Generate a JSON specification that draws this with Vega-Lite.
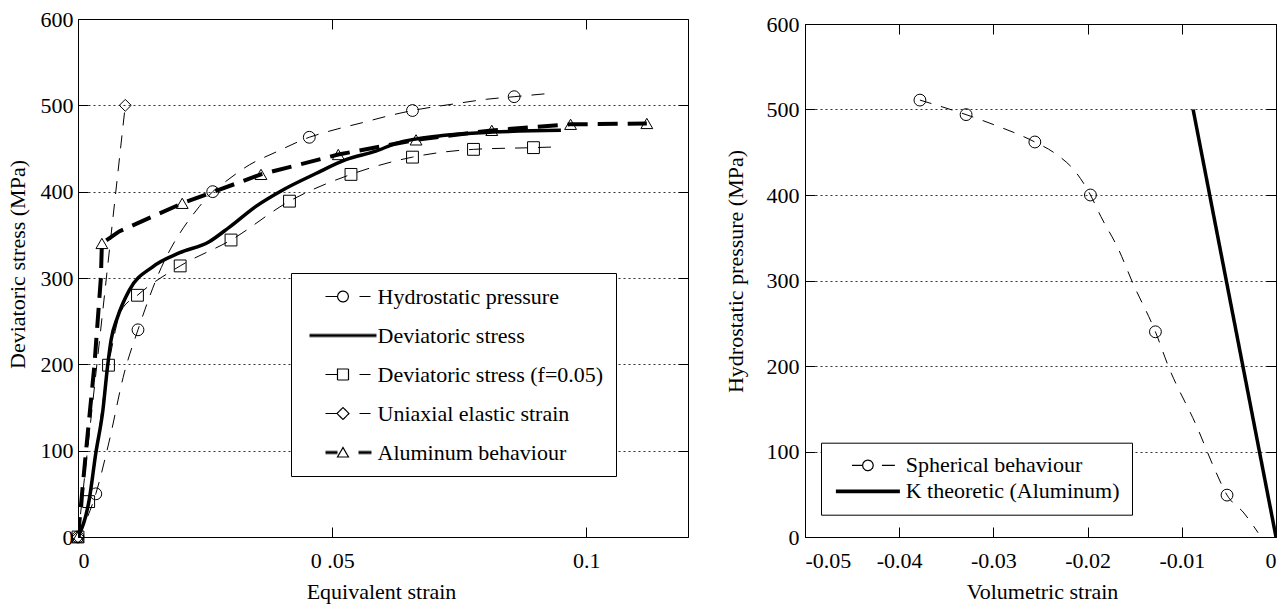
{
  "$schema": "https://vega.github.io/schema/vega-lite/v6.json",
  "background": "white",
  "padding": {"left": 5, "top": 7, "right": 5, "bottom": 5},
  "bounds": "flush",
  "spacing": 117,
  "resolve": {"scale": {"color": "independent", "shape": "independent"}},
  "config": {
    "font": "Liberation Serif",
    "view": {"stroke": "black", "strokeWidth": 1},
    "axis": {
      "labelFont": "Liberation Serif", "labelFontSize": 22, "labelColor": "black",
      "titleFont": "Liberation Serif", "titleFontSize": 22, "titleFontWeight": "normal", "titleColor": "black",
      "domain": false, "tickColor": "black", "tickSize": -10, "tickWidth": 1,
      "gridColor": "black", "gridDash": [2, 3], "gridWidth": 0.8, "gridOpacity": 1
    },
    "legend": {
      "labelFont": "Liberation Serif", "labelFontSize": 22, "labelColor": "black", "labelLimit": 400,
      "strokeColor": "black", "fillColor": "white", "direction": "vertical",
      "symbolStrokeWidth": 1.2, "symbolDash": [1, 0]
    }
  },
  "datasets": {
    "left": [
      {"series": "Hydrostatic pressure", "strain": 0, "stress": 0, "kind": "measured"},
      {"series": "Hydrostatic pressure", "strain": 0.0035, "stress": 50, "kind": "measured"},
      {"series": "Hydrostatic pressure", "strain": 0.0061, "stress": 110, "kind": "curve"},
      {"series": "Hydrostatic pressure", "strain": 0.0091, "stress": 190, "kind": "curve"},
      {"series": "Hydrostatic pressure", "strain": 0.0118, "stress": 240, "kind": "measured"},
      {"series": "Hydrostatic pressure", "strain": 0.0155, "stress": 300, "kind": "curve"},
      {"series": "Hydrostatic pressure", "strain": 0.0239, "stress": 383, "kind": "curve"},
      {"series": "Hydrostatic pressure", "strain": 0.0265, "stress": 400, "kind": "measured"},
      {"series": "Hydrostatic pressure", "strain": 0.0291, "stress": 412, "kind": "curve"},
      {"series": "Hydrostatic pressure", "strain": 0.0337, "stress": 431, "kind": "curve"},
      {"series": "Hydrostatic pressure", "strain": 0.039, "stress": 446, "kind": "curve"},
      {"series": "Hydrostatic pressure", "strain": 0.0455, "stress": 463, "kind": "measured"},
      {"series": "Hydrostatic pressure", "strain": 0.0494, "stress": 470, "kind": "curve"},
      {"series": "Hydrostatic pressure", "strain": 0.056, "stress": 480, "kind": "curve"},
      {"series": "Hydrostatic pressure", "strain": 0.0619, "stress": 489, "kind": "curve"},
      {"series": "Hydrostatic pressure", "strain": 0.0658, "stress": 494, "kind": "measured"},
      {"series": "Hydrostatic pressure", "strain": 0.0744, "stress": 502, "kind": "curve"},
      {"series": "Hydrostatic pressure", "strain": 0.0803, "stress": 507, "kind": "curve"},
      {"series": "Hydrostatic pressure", "strain": 0.0858, "stress": 510, "kind": "measured"},
      {"series": "Hydrostatic pressure", "strain": 0.0931, "stress": 514, "kind": "curve"},

      {"series": "Deviatoric stress", "strain": 0, "stress": 0, "kind": "curve"},
      {"series": "Deviatoric stress", "strain": 0.0022, "stress": 43, "kind": "curve"},
      {"series": "Deviatoric stress", "strain": 0.0035, "stress": 97, "kind": "curve"},
      {"series": "Deviatoric stress", "strain": 0.0049, "stress": 147, "kind": "curve"},
      {"series": "Deviatoric stress", "strain": 0.0058, "stress": 197, "kind": "curve"},
      {"series": "Deviatoric stress", "strain": 0.0065, "stress": 228, "kind": "curve"},
      {"series": "Deviatoric stress", "strain": 0.0078, "stress": 255, "kind": "curve"},
      {"series": "Deviatoric stress", "strain": 0.0101, "stress": 286, "kind": "curve"},
      {"series": "Deviatoric stress", "strain": 0.0147, "stress": 313, "kind": "curve"},
      {"series": "Deviatoric stress", "strain": 0.0199, "stress": 329, "kind": "curve"},
      {"series": "Deviatoric stress", "strain": 0.0258, "stress": 342, "kind": "curve"},
      {"series": "Deviatoric stress", "strain": 0.0298, "stress": 359, "kind": "curve"},
      {"series": "Deviatoric stress", "strain": 0.035, "stress": 383, "kind": "curve"},
      {"series": "Deviatoric stress", "strain": 0.0403, "stress": 402, "kind": "curve"},
      {"series": "Deviatoric stress", "strain": 0.0468, "stress": 421, "kind": "curve"},
      {"series": "Deviatoric stress", "strain": 0.0527, "stress": 437, "kind": "curve"},
      {"series": "Deviatoric stress", "strain": 0.0586, "stress": 447, "kind": "curve"},
      {"series": "Deviatoric stress", "strain": 0.0626, "stress": 456, "kind": "curve"},
      {"series": "Deviatoric stress", "strain": 0.0717, "stress": 465, "kind": "curve"},
      {"series": "Deviatoric stress", "strain": 0.0816, "stress": 469, "kind": "curve"},
      {"series": "Deviatoric stress", "strain": 0.095, "stress": 471, "kind": "curve"},

      {"series": "Deviatoric stress (f=0.05)", "strain": 0, "stress": 0, "kind": "measured"},
      {"series": "Deviatoric stress (f=0.05)", "strain": 0.0021, "stress": 41, "kind": "measured"},
      {"series": "Deviatoric stress (f=0.05)", "strain": 0.006, "stress": 199, "kind": "measured"},
      {"series": "Deviatoric stress (f=0.05)", "strain": 0.0085, "stress": 262, "kind": "curve"},
      {"series": "Deviatoric stress (f=0.05)", "strain": 0.0117, "stress": 280, "kind": "measured"},
      {"series": "Deviatoric stress (f=0.05)", "strain": 0.0201, "stress": 314, "kind": "measured"},
      {"series": "Deviatoric stress (f=0.05)", "strain": 0.0301, "stress": 344, "kind": "measured"},
      {"series": "Deviatoric stress (f=0.05)", "strain": 0.0416, "stress": 389, "kind": "measured"},
      {"series": "Deviatoric stress (f=0.05)", "strain": 0.0537, "stress": 420, "kind": "measured"},
      {"series": "Deviatoric stress (f=0.05)", "strain": 0.0658, "stress": 440, "kind": "measured"},
      {"series": "Deviatoric stress (f=0.05)", "strain": 0.0778, "stress": 449, "kind": "measured"},
      {"series": "Deviatoric stress (f=0.05)", "strain": 0.0896, "stress": 451, "kind": "measured"},
      {"series": "Deviatoric stress (f=0.05)", "strain": 0.095, "stress": 452, "kind": "curve"},

      {"series": "Uniaxial elastic strain", "strain": 0, "stress": 0, "kind": "measured"},
      {"series": "Uniaxial elastic strain", "strain": 0.0093, "stress": 500, "kind": "measured"},

      {"series": "Aluminum behaviour", "strain": 0, "stress": 0, "kind": "measured"},
      {"series": "Aluminum behaviour", "strain": 0.0016, "stress": 101, "kind": "curve"},
      {"series": "Aluminum behaviour", "strain": 0.0032, "stress": 197, "kind": "curve"},
      {"series": "Aluminum behaviour", "strain": 0.0045, "stress": 300, "kind": "curve"},
      {"series": "Aluminum behaviour", "strain": 0.0047, "stress": 340, "kind": "measured"},
      {"series": "Aluminum behaviour", "strain": 0.0081, "stress": 354, "kind": "curve"},
      {"series": "Aluminum behaviour", "strain": 0.0205, "stress": 386.5, "kind": "measured"},
      {"series": "Aluminum behaviour", "strain": 0.036, "stress": 420, "kind": "measured"},
      {"series": "Aluminum behaviour", "strain": 0.0512, "stress": 443, "kind": "measured"},
      {"series": "Aluminum behaviour", "strain": 0.0665, "stress": 460, "kind": "measured"},
      {"series": "Aluminum behaviour", "strain": 0.0814, "stress": 471, "kind": "measured"},
      {"series": "Aluminum behaviour", "strain": 0.0969, "stress": 478, "kind": "measured"},
      {"series": "Aluminum behaviour", "strain": 0.1119, "stress": 479, "kind": "measured"}
    ],
    "right": [
      {"series": "Spherical behaviour", "strain": -0.0378, "pressure": 511, "kind": "measured"},
      {"series": "Spherical behaviour", "strain": -0.0329, "pressure": 494, "kind": "measured"},
      {"series": "Spherical behaviour", "strain": -0.0299, "pressure": 482, "kind": "curve"},
      {"series": "Spherical behaviour", "strain": -0.0256, "pressure": 462, "kind": "measured"},
      {"series": "Spherical behaviour", "strain": -0.0235, "pressure": 449, "kind": "curve"},
      {"series": "Spherical behaviour", "strain": -0.0212, "pressure": 426, "kind": "curve"},
      {"series": "Spherical behaviour", "strain": -0.0197, "pressure": 400, "kind": "measured"},
      {"series": "Spherical behaviour", "strain": -0.0186, "pressure": 375, "kind": "curve"},
      {"series": "Spherical behaviour", "strain": -0.0167, "pressure": 336, "kind": "curve"},
      {"series": "Spherical behaviour", "strain": -0.0152, "pressure": 297, "kind": "curve"},
      {"series": "Spherical behaviour", "strain": -0.0128, "pressure": 240, "kind": "measured"},
      {"series": "Spherical behaviour", "strain": -0.0114, "pressure": 199, "kind": "curve"},
      {"series": "Spherical behaviour", "strain": -0.0084, "pressure": 129, "kind": "curve"},
      {"series": "Spherical behaviour", "strain": -0.0065, "pressure": 79, "kind": "curve"},
      {"series": "Spherical behaviour", "strain": -0.0052, "pressure": 49, "kind": "measured"},
      {"series": "Spherical behaviour", "strain": -0.0034, "pressure": 28, "kind": "curve"},
      {"series": "Spherical behaviour", "strain": -0.0019, "pressure": 5, "kind": "curve"},
      {"series": "K theoretic (Aluminum)", "strain": -0.0088, "pressure": 500, "kind": "curve"},
      {"series": "K theoretic (Aluminum)", "strain": 0, "pressure": 0, "kind": "curve"}
    ]
  },
  "hconcat": [
    {
      "width": 610, "height": 518,
      "data": {"name": "left"},
      "layer": [
        {
          "transform": [{"filter": "datum.series == 'Deviatoric stress'"}],
          "mark": {"type": "line", "clip": true, "interpolate": "monotone", "strokeWidth": 3.5},
          "encoding": {
            "x": {"field": "strain", "type": "quantitative", "scale": {"domain": [0, 0.12], "nice": false, "zero": false},
                  "axis": {"orient": "bottom", "values": [0, 0.05, 0.1], "title": "Equivalent strain", "grid": false,
                           "labelExpr": "datum.value == 0 ? '0' : datum.value > 0.07 ? '0.1' : '0 .05'",
                           "labelPadding": 23, "titlePadding": 10, "titleX": 303}},
            "y": {"field": "stress", "type": "quantitative", "scale": {"domain": [0, 600], "nice": false},
                  "axis": {"orient": "left", "values": [0, 100, 200, 300, 400, 500, 600], "title": "Deviatoric stress (MPa)", "grid": true,
                           "labelPadding": 15, "titlePadding": 11, "titleY": 245}},
            "color": {"field": "series", "type": "nominal",
                      "scale": {"domain": ["Hydrostatic pressure", "Deviatoric stress", "Deviatoric stress (f=0.05)", "Uniaxial elastic strain", "Aluminum behaviour"],
                                "range": ["black", "black", "black", "black", "black"]},
                      "legend": {"orient": "none", "legendX": 213, "legendY": 254, "title": null, "symbolSize": 100,
                                 "labelOffset": 52, "padding": 12.5, "rowPadding": 17,
                                 "encode": {"symbols": {"update": {
                                   "shape": {"signal": "datum.value == 'Hydrostatic pressure' ? 'M2.2,0L4.6,0M6.8,0L6.653,0.55L6.25,0.953L5.7,1.1L5.15,0.953L4.747,0.55L4.6,0L4.747,-0.55L5.15,-0.953L5.7,-1.1L6.25,-0.953L6.653,-0.55ZM9,0L11.2,0' : datum.value == 'Deviatoric stress' ? 'M-1,-0.25L12.4,-0.25M-1,0L12.4,0M-1,0.25L12.4,0.25' : datum.value == 'Deviatoric stress (f=0.05)' ? 'M2.2,0L4.6,0M4.6,-1.1L6.8,-1.1L6.8,1.1L4.6,1.1ZM9,0L11.2,0' : datum.value == 'Uniaxial elastic strain' ? 'M2.2,0L4.5,0M4.5,0L5.7,-1.2L6.9,0L5.7,1.2ZM9,0L11.2,0' : 'M2.2,-0.25L4.6,-0.25M2.2,0L4.6,0M2.2,0.25L4.6,0.25M4.6,0.9L5.7,-1L6.8,0.9ZM8.8,-0.25L11.4,-0.25M8.8,0L11.4,0M8.8,0.25L11.4,0.25'"},
                                   "stroke": {"value": "black"}, "strokeWidth": {"value": 1.2}, "fill": {"value": "transparent"},
                                   "strokeDash": {"value": [1, 0]}, "opacity": {"value": 1}}}}}}
          }
        },
        {
          "transform": [{"filter": "datum.series == 'Hydrostatic pressure' || datum.series == 'Deviatoric stress (f=0.05)'"}],
          "mark": {"type": "line", "clip": true, "interpolate": "monotone", "strokeWidth": 1, "strokeDash": [13, 10], "color": "black"},
          "encoding": {
            "x": {"field": "strain", "type": "quantitative", "axis": null},
            "y": {"field": "stress", "type": "quantitative", "axis": null},
            "detail": {"field": "series", "type": "nominal"}
          }
        },
        {
          "transform": [{"filter": "datum.series == 'Uniaxial elastic strain'"}],
          "mark": {"type": "line", "clip": true, "strokeWidth": 1, "strokeDash": [13, 10], "color": "black"},
          "encoding": {
            "x": {"field": "strain", "type": "quantitative", "axis": null},
            "y": {"field": "stress", "type": "quantitative", "axis": null}
          }
        },
        {
          "transform": [{"filter": "datum.series == 'Aluminum behaviour'"}],
          "mark": {"type": "line", "clip": true, "strokeWidth": 4, "strokeDash": [20, 10], "color": "black"},
          "encoding": {
            "x": {"field": "strain", "type": "quantitative", "axis": null},
            "y": {"field": "stress", "type": "quantitative", "axis": null}
          }
        },
        {
          "transform": [{"filter": "datum.kind == 'measured'"}],
          "mark": {"type": "point", "filled": false, "size": 140, "strokeWidth": 1, "color": "black", "opacity": 1},
          "encoding": {
            "x": {"field": "strain", "type": "quantitative", "axis": null},
            "y": {"field": "stress", "type": "quantitative", "axis": null},
            "shape": {"field": "series", "type": "nominal",
                      "scale": {"domain": ["Hydrostatic pressure", "Deviatoric stress (f=0.05)", "Uniaxial elastic strain", "Aluminum behaviour"],
                                "range": ["circle", "square", "diamond", "triangle-up"]}, "legend": null}
          }
        },
        {
          "mark": {"type": "point", "opacity": 0},
          "encoding": {
            "x": {"field": "strain", "type": "quantitative", "axis": {"orient": "top", "values": [0, 0.05, 0.1], "labels": false, "title": null, "grid": false}},
            "y": {"field": "stress", "type": "quantitative", "axis": {"orient": "right", "values": [0, 100, 200, 300, 400, 500, 600], "labels": false, "title": null, "grid": false}}
          }
        }
      ],
      "resolve": {"axis": {"x": "independent", "y": "independent"}}
    },
    {
      "bounds": "flush",
      "spacing": 4,
      "vconcat": [
        {
          "width": 471, "height": 1,
          "view": {"stroke": null},
          "data": {"values": [{"t": ""}]},
          "mark": {"type": "text"},
          "encoding": {"text": {"field": "t", "type": "nominal"}}
        },
        {
          "width": 471, "height": 513,
          "data": {"name": "right"},
          "layer": [
            {
              "transform": [{"filter": "datum.series == 'K theoretic (Aluminum)'"}],
              "mark": {"type": "line", "clip": true, "strokeWidth": 3.5},
              "encoding": {
                "x": {"field": "strain", "type": "quantitative", "scale": {"domain": [-0.05, 0], "nice": false},
                      "axis": {"orient": "bottom", "values": [-0.05, -0.04, -0.03, -0.02, -0.01, 0], "title": "Volumetric strain", "grid": false,
                               "labelExpr": "datum.value > -0.001 ? '0' : '-' + format(abs(datum.value), '.2f')",
                               "labelPadding": 23, "titlePadding": 10, "titleX": 237}},
                "y": {"field": "pressure", "type": "quantitative", "scale": {"domain": [0, 600], "nice": false},
                      "axis": {"orient": "left", "values": [0, 100, 200, 300, 400, 500, 600], "title": "Hydrostatic pressure (MPa)", "grid": true,
                               "labelPadding": 16, "titlePadding": 19, "titleY": 247}},
                "color": {"field": "series", "type": "nominal",
                          "scale": {"domain": ["Spherical behaviour", "K theoretic (Aluminum)"], "range": ["black", "black"]},
                          "legend": {"orient": "none", "legendX": 16, "legendY": 423.7, "title": null, "symbolSize": 100,
                                     "labelOffset": 51, "padding": 11.7, "rowPadding": 4,
                                     "encode": {"symbols": {"update": {
                                       "shape": {"signal": "datum.value == 'Spherical behaviour' ? 'M1.64,0L3.77,0M5.91,0L5.767,0.535L5.375,0.927L4.84,1.07L4.305,0.927L3.913,0.535L3.77,0L3.913,-0.535L4.305,-0.927L4.84,-1.07L5.375,-0.927L5.767,-0.535ZM7.64,0L10.24,0' : 'M-1.56,-0.25L11.24,-0.25M-1.56,0L11.24,0M-1.56,0.25L11.24,0.25'"},
                                       "stroke": {"value": "black"}, "strokeWidth": {"value": 1.2}, "fill": {"value": "transparent"},
                                       "strokeDash": {"value": [1, 0]}, "opacity": {"value": 1}}}}}}
              }
            },
            {
              "transform": [{"filter": "datum.series == 'Spherical behaviour'"}],
              "mark": {"type": "line", "clip": true, "interpolate": "monotone", "strokeWidth": 1, "strokeDash": [12, 10], "color": "black"},
              "encoding": {
                "x": {"field": "strain", "type": "quantitative", "axis": null},
                "y": {"field": "pressure", "type": "quantitative", "axis": null}
              }
            },
            {
              "transform": [{"filter": "datum.kind == 'measured'"}],
              "mark": {"type": "point", "filled": false, "size": 140, "strokeWidth": 1, "color": "black", "opacity": 1, "shape": "circle"},
              "encoding": {
                "x": {"field": "strain", "type": "quantitative", "axis": null},
                "y": {"field": "pressure", "type": "quantitative", "axis": null}
              }
            },
            {
              "mark": {"type": "point", "opacity": 0},
              "encoding": {
                "x": {"field": "strain", "type": "quantitative", "axis": {"orient": "top", "values": [-0.05, -0.04, -0.03, -0.02, -0.01, 0], "labels": false, "title": null, "grid": false}},
                "y": {"field": "pressure", "type": "quantitative", "axis": {"orient": "right", "values": [0, 100, 200, 300, 400, 500, 600], "labels": false, "title": null, "grid": false}}
              }
            }
          ],
          "resolve": {"axis": {"x": "independent", "y": "independent"}}
        }
      ]
    }
  ]
}
